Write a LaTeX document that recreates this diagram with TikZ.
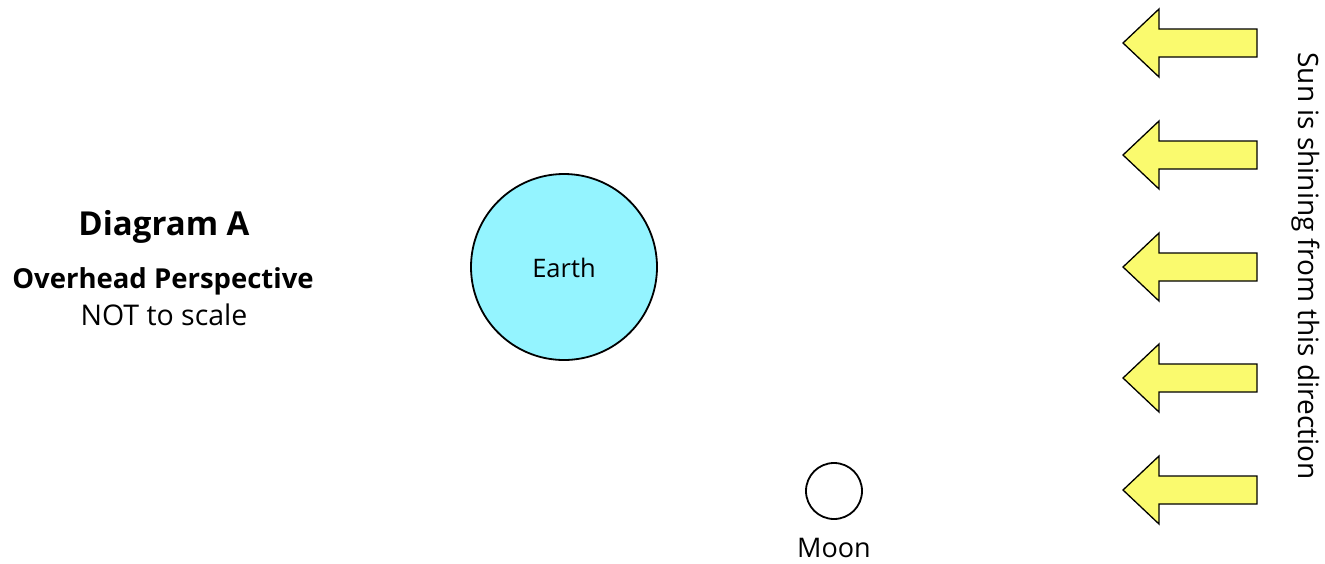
\documentclass[tikz,border=0pt]{standalone}
\usepackage{fontspec}
\setmainfont{Open Sans}
\definecolor{earthc}{RGB}{148,244,255}
\definecolor{sunc}{RGB}{250,250,110}
\tikzset{
  body/.style={circle, draw=black, line width=1.8pt, inner sep=0pt},
  sunarrow/.style={draw=black, line width=1.3pt, fill=sunc, line join=miter},
  lbl/.style={inner sep=0pt, anchor=base}
}
\begin{document}
\begin{tikzpicture}[x=1pt,y=-1pt]
\useasboundingbox (0,0) rectangle (1325,563);
\node[lbl, font=\fontsize{33}{35}\selectfont\bfseries] (title) at (164,235) {Diagram A};
\node[lbl, font=\fontsize{27.5}{29}\selectfont\bfseries] (persp) at (163,288) {Overhead Perspective};
\node[lbl, font=\fontsize{28.5}{30}\selectfont] (scale) at (164,325) {NOT to scale};
\node[body, fill=earthc, minimum size=186pt] (earth) at (564,267) {};
\node[lbl, font=\fontsize{25.5}{27}\selectfont] (earthlbl) at (564,277) {Earth};
\node[body, fill=white, minimum size=56pt] (moon) at (834,491) {};
\node[lbl, font=\fontsize{27}{29}\selectfont] (moonlbl) at (834,557) {Moon};
\foreach \i/\y in {1/43,2/155,3/267,4/378,5/490}{
  \draw[sunarrow] (1123,\y) -- (1159,\y-34) -- (1159,\y-14) -- (1257,\y-14)
     -- (1257,\y+14) -- (1159,\y+14) -- (1159,\y+34) -- cycle;
}
\node[inner sep=0pt, rotate=-90, font=\fontsize{28}{30}\selectfont] (sun) at (1306,266) {Sun is shining from this direction};
\end{tikzpicture}
\end{document}
